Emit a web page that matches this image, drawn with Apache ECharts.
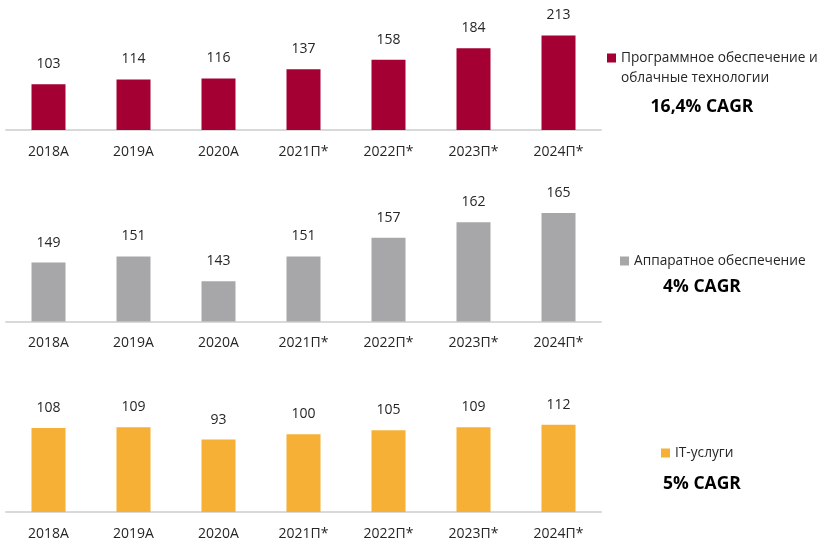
<!DOCTYPE html>
<html>
<head>
<meta charset="utf-8">
<script src="https://cdn.jsdelivr.net/npm/echarts@6/dist/echarts.min.js"></script>
<style>
  html, body { margin: 0; padding: 0; background: #fff; }
  #chart { width: 818px; height: 541px; }
</style>
</head>
<body>
<div id="chart"></div>
<script>
// данные
const years = ['2018A', '2019A', '2020A', '2021П*', '2022П*', '2023П*', '2024П*'];
const software = [103, 114, 116, 137, 158, 184, 213];
const hardware = [149, 151, 143, 151, 157, 162, 165];
const services = [108, 109, 93, 100, 105, 109, 112];
const names = ['Программное обеспечение и облачные технологии', 'Аппаратное обеспечение', 'IT-услуги'];
const cagr = ['16,4% CAGR', '4% CAGR', '5% CAGR'];
const colors = ['#A50034', '#A7A7AA', '#F5B035'];

const font = '"Open Sans", sans-serif';

// панели: grid + оси
const panels = [
  { top: 19, height: 111, min: 0, max: 250, interval: 50, data: software },
  { top: 197.5, height: 124, min: 130, max: 170, interval: 10, data: hardware },
  { top: 403, height: 111.5, min: 0, max: 140, interval: 20, data: services }
];

const grid = panels.map(p => ({ left: 6, right: 217, top: p.top, height: p.height }));

const xAxis = panels.map((p, i) => ({
  type: 'category',
  gridIndex: i,
  data: years,
  axisLine: { lineStyle: { color: '#D9D9D9', width: 2 } },
  axisTick: { show: false },
  axisLabel: { color: '#262626', fontSize: 14, fontFamily: font, margin: 15 }
}));

const yAxis = panels.map((p, i) => ({
  type: 'value',
  gridIndex: i,
  min: p.min,
  max: p.max,
  interval: p.interval,
  show: false,
  splitLine: { show: false }
}));

const series = panels.map((p, i) => ({
  type: 'bar',
  name: names[i],
  xAxisIndex: i,
  yAxisIndex: i,
  data: p.data,
  barWidth: 34,
  itemStyle: { color: colors[i] },
  label: {
    show: true,
    position: 'top',
    distance: 13,
    color: '#262626',
    fontSize: 14,
    fontFamily: font
  }
}));

const legendPos = [
  { left: 607, top: 51 },
  { left: 620, top: 254 },
  { left: 661, top: 446 }
];

const legend = legendPos.map((pos, i) => ({
  left: pos.left,
  top: pos.top,
  padding: 0,
  data: [names[i]],
  icon: 'rect',
  itemWidth: 9,
  itemHeight: 9,
  itemGap: 0,
  selectedMode: false,
  formatter: i === 0 ? 'Программное обеспечение и' : '{name}',
  textStyle: { color: '#262626', fontSize: 13.7, fontFamily: font }
}));

const cagrPos = [[702, 107], [702, 287], [702, 484]];

const graphic = cagr.map((t, i) => ({
  type: 'text',
  x: cagrPos[i][0],
  y: cagrPos[i][1],
  style: {
    text: t,
    fill: '#000',
    font: 'bold 17.5px ' + font,
    align: 'center',
    verticalAlign: 'middle'
  }
}));
// вторая строка подписи первой серии
graphic.push({
  type: 'text',
  x: 621,
  y: 78,
  style: {
    text: 'облачные технологии',
    fill: '#262626',
    font: '13.7px ' + font,
    align: 'left',
    verticalAlign: 'middle'
  }
});

const chart = echarts.init(document.getElementById('chart'));
chart.setOption({
  backgroundColor: '#fff',
  animation: false,
  grid,
  xAxis,
  yAxis,
  series,
  legend,
  graphic
});
window.addEventListener('resize', () => {
  chart.resize();
});
</script>
</body>
</html>
